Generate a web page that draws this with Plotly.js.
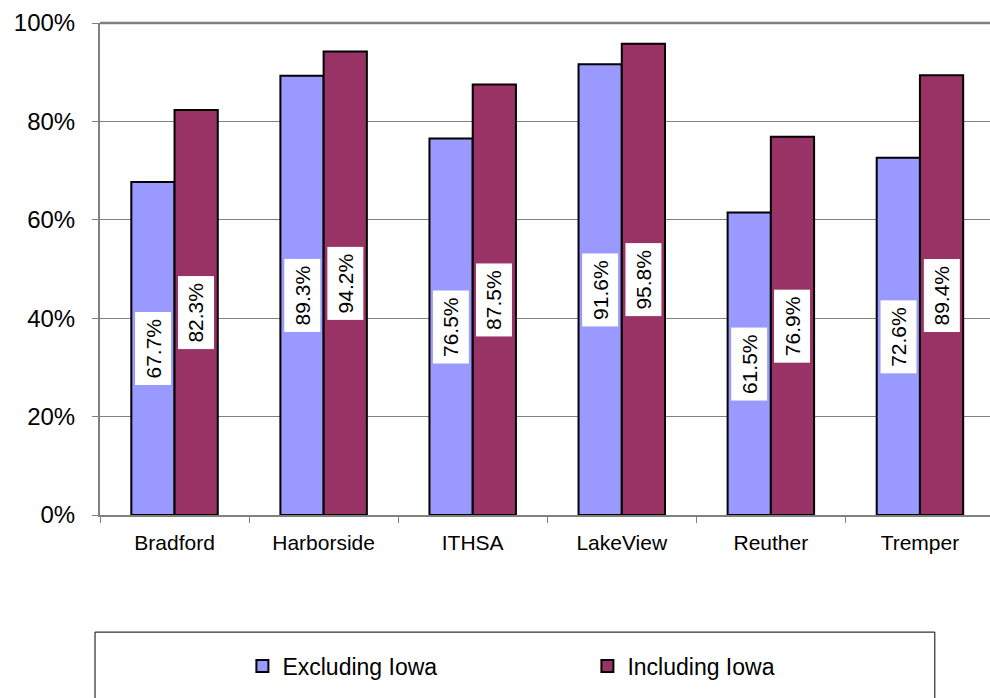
<!DOCTYPE html>
<html>
<head>
<meta charset="utf-8">
<script src="https://cdn.plot.ly/plotly-3.0.1.min.js"></script>
<style>html,body{margin:0;padding:0;background:#fff;overflow:hidden}#chart{width:990px;height:698px}</style>
</head>
<body>
<div id="chart"></div>
<script>
var categories = ["Bradford", "Harborside", "ITHSA", "LakeView", "Reuther", "Tremper"];
var excludingIowa = [67.7, 89.3, 76.5, 91.6, 61.5, 72.6];
var includingIowa = [82.3, 94.2, 87.5, 95.8, 76.9, 89.4];
var seriesNames = ["Excluding Iowa", "Including Iowa"];
var yTickVals = [0, 20, 40, 60, 80, 100];
var yTickText = ["0%", "20%", "40%", "60%", "80%", "100%"];

var FONT = "Liberation Sans, Arial, sans-serif";
var colors = ["#9999FF", "#993366"];
var series = [excludingIowa, includingIowa];

var traces = series.map(function (vals, i) {
  return {
    type: "bar",
    name: seriesNames[i],
    x: categories,
    y: vals,
    marker: { color: colors[i], line: { color: "#000000", width: 2 } },
    hoverinfo: "skip"
  };
});

var annotations = [];
series.forEach(function (vals, i) {
  vals.forEach(function (v, j) {
    annotations.push({
      x: categories[j], y: v / 2, xref: "x", yref: "y",
      xshift: i === 0 ? -21.5 : 21.5,
      text: v.toFixed(1) + "%",
      textangle: -90,
      showarrow: false,
      bgcolor: "#FFFFFF",
      borderpad: 6,
      font: { family: FONT, size: 21, color: "#000000" }
    });
  });
});

var layout = {
  width: 990, height: 698,
  margin: { l: 100, r: 0, t: 23, b: 183, autoexpand: false },
  paper_bgcolor: "#FFFFFF", plot_bgcolor: "#FFFFFF",
  barmode: "group", bargap: 0.42, bargroupgap: 0,
  showlegend: true,
  legend: {
    orientation: "h", x: 0.160, xanchor: "left", y: -0.307, yanchor: "middle",
    font: { family: FONT, size: 23, color: "#000000" },
    bgcolor: "rgba(0,0,0,0)", borderwidth: 0,
    entrywidth: 300, entrywidthmode: "pixels", itemwidth: 30,
    traceorder: "normal"
  },
  xaxis: {
    type: "category", range: [-0.5, 5.47],
    tickson: "boundaries", ticks: "outside", ticklen: 6, tickcolor: "#808080", tickwidth: 1,
    showline: true, linecolor: "#808080", linewidth: 2,
    showgrid: false, zeroline: false,
    ticklabelstandoff: 8,
    tickfont: { family: FONT, size: 21, color: "#000000" },
    fixedrange: true
  },
  yaxis: {
    range: [0, 100], tickvals: yTickVals, ticktext: yTickText,
    ticks: "outside", ticklen: 6, tickcolor: "#808080", tickwidth: 1,
    showline: true, linecolor: "#808080", linewidth: 2,
    showgrid: true, gridcolor: "#808080", gridwidth: 1,
    zeroline: false,
    ticklabelstandoff: 12,
    tickfont: { family: FONT, size: 24, color: "#000000" },
    fixedrange: true
  },
  shapes: [
    { type: "line", xref: "paper", yref: "paper", x0: 0, x1: 1, y0: 1, y1: 1,
      line: { color: "#808080", width: 2.5 } },
    { type: "rect", xref: "paper", yref: "paper", x0: -0.0056, x1: 0.938, y0: -0.238, y1: -0.40,
      line: { color: "#000000", width: 1 }, fillcolor: "rgba(0,0,0,0)" }
  ],
  annotations: annotations
};

Plotly.newPlot("chart", traces, layout, { displayModeBar: false, staticPlot: true });
</script>
</body>
</html>
